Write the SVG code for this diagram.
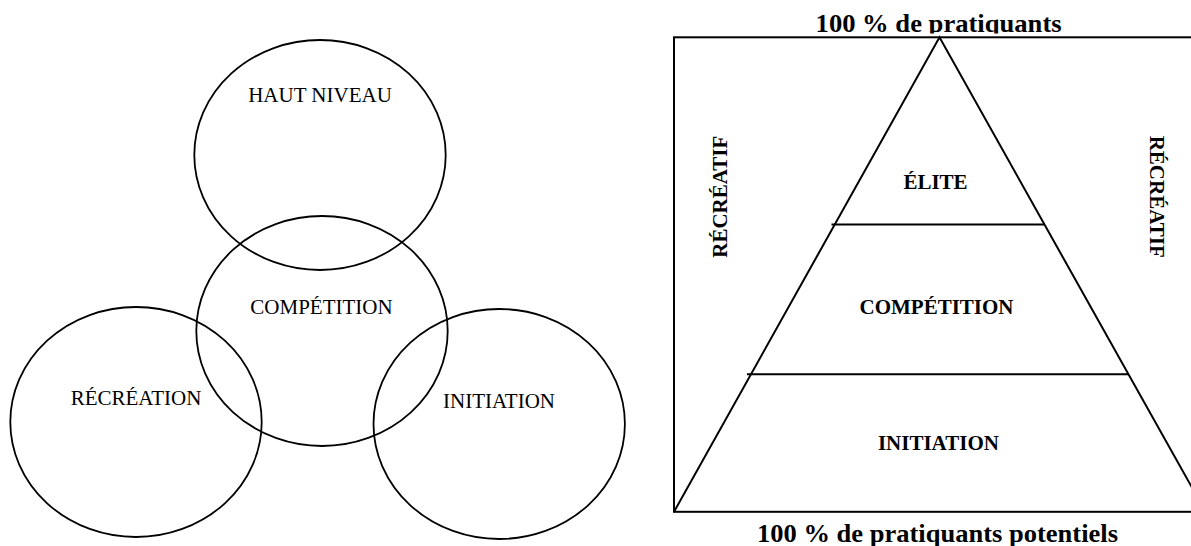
<svg xmlns="http://www.w3.org/2000/svg" width="1191" height="546" viewBox="0 0 1191 546">
<style>
.c{fill:none;stroke:#000;stroke-width:1.8}
.s{fill:none;stroke:#000;stroke-width:2}
.t{font-family:"Liberation Serif","Times New Roman",serif;font-size:21px;fill:#000;text-anchor:middle}
.b{font-family:"Liberation Serif","Times New Roman",serif;font-size:21px;font-weight:bold;fill:#000;text-anchor:middle}
.h{font-family:"Liberation Serif","Times New Roman",serif;font-size:25px;font-weight:bold;fill:#000;text-anchor:middle}
</style>
<defs>
<clipPath id="topclip"><rect x="700" y="0" width="480" height="33.5"/></clipPath>
</defs>
<rect width="1191" height="546" fill="#fff"/>
<g id="venn">
<g id="haut-niveau"><ellipse class="c" cx="320" cy="155" rx="125.7" ry="115"/><text class="t" x="320" y="101.5">HAUT NIVEAU</text></g>
<g id="competition"><ellipse class="c" cx="322" cy="331" rx="125.7" ry="115"/><text class="t" x="321.5" y="314">COMPÉTITION</text></g>
<g id="recreation"><ellipse class="c" cx="136" cy="422" rx="125.7" ry="115"/><text class="t" x="136" y="404.5">RÉCRÉATION</text></g>
<g id="initiation"><ellipse class="c" cx="499.2" cy="424" rx="125.7" ry="115"/><text class="t" x="499" y="407.5">INITIATION</text></g>
</g>
<g id="pyramid">
<g id="frame"><rect class="s" x="674" y="37.3" width="532" height="474.5"/></g>
<g id="connectors">
<polyline class="s" points="674,511.8 939.5,37.3 1205.6,511.8"/>
<line class="s" x1="831.5" y1="224.6" x2="1044" y2="224.6"/>
<line class="s" x1="747" y1="374.3" x2="1128.4" y2="374.3"/>
</g>
<g id="elite"><text class="b" x="935.5" y="188.7">ÉLITE</text></g>
<g id="competition-p"><text class="b" x="936.5" y="314.4">COMPÉTITION</text></g>
<g id="initiation-p"><text class="b" x="938.4" y="450.2">INITIATION</text></g>
<g id="recreatif-left"><text class="b" transform="translate(726.5,196.7) rotate(-90)">RÉCRÉATIF</text></g>
<g id="recreatif-right"><text class="b" transform="translate(1150.2,196.7) rotate(90)">RÉCRÉATIF</text></g>
<g id="top-label"><text class="h" x="938.6" y="31.7" textLength="246" lengthAdjust="spacingAndGlyphs" clip-path="url(#topclip)">100 % de pratiquants</text></g>
<g id="bottom-label"><text class="h" x="937.5" y="541.7" textLength="361" lengthAdjust="spacingAndGlyphs">100 % de pratiquants potentiels</text></g>
</g>
</svg>
